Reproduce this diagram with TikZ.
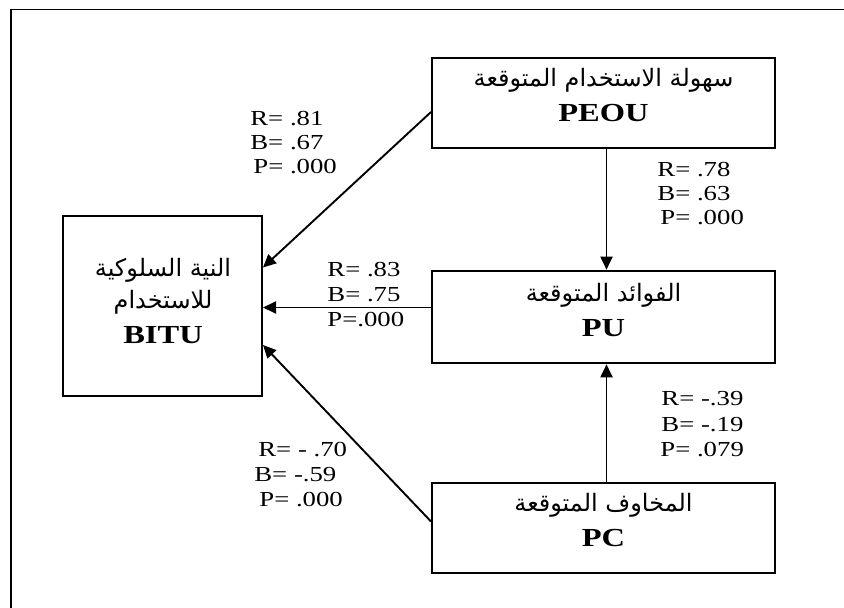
\documentclass[tikz,border=0pt]{standalone}
\usepackage{fontspec}
\setmainfont{Liberation Serif}[FakeStretch=1.25]
\newfontfamily\arabicfont[Script=Arabic]{DejaVu Sans}
\TeXXeTstate=1
\usetikzlibrary{arrows.meta,calc}
\newcommand{\ar}[1]{{\arabicfont\fontsize{12pt}{14pt}\selectfont\beginR #1\endR}}
\tikzset{
  box/.style={draw, line width=1pt, align=center, inner sep=0pt},
  ttl/.style={font=\fontsize{13pt}{15pt}\selectfont\bfseries},
  lbl/.style={anchor=base west, inner sep=0pt, font=\fontsize{10.7pt}{12pt}\selectfont},
  arr/.style={line width=0.95pt, -{Triangle[length=6.5pt,width=6pt]}}
}
\begin{document}
\begin{tikzpicture}[x=0.5pt,y=-0.5pt]
\useasboundingbox (0,0) rectangle (844,608);
\draw[line width=0.8pt] (845,9.5) -- (11,9.5) -- (11,612);
% boxes
\node[box, minimum width=171.5pt, minimum height=45.25pt] (PEOU) at (603.5,103) {};
\node[box, minimum width=171.5pt, minimum height=46.3pt] (PU) at (603.5,317) {};
\node[box, minimum width=171.5pt, minimum height=45.2pt] (PC) at (603.5,528) {};
\node[box, minimum width=99.5pt, minimum height=89.75pt] (BITU) at (162.5,306) {};
% box texts
\node[inner sep=0pt] (tPEOUa) at (603.5,80) {\ar{سهولة الاستخدام المتوقعة}};
\node[ttl, anchor=base, inner sep=0pt] (tPEOUb) at (603.5,122) {PEOU};
\node[inner sep=0pt] (tPUa) at (603.5,295) {\ar{الفوائد المتوقعة}};
\node[ttl, anchor=base, inner sep=0pt] (tPUb) at (603.5,337) {PU};
\node[inner sep=0pt] (tPCa) at (603.5,505) {\ar{المخاوف المتوقعة}};
\node[ttl, anchor=base, inner sep=0pt] (tPCb) at (603.5,546) {PC};
\node[inner sep=0pt] (tBITUa) at (163,270) {\ar{النية السلوكية}};
\node[inner sep=0pt] (tBITUb) at (163,302) {\ar{للاستخدام}};
\node[ttl, anchor=base, inner sep=0pt] (tBITUc) at (163,344) {BITU};
% connectors
\draw[arr] ($(PEOU.west)+(0,9)$) -- ($(BITU.east)+(0,-38.5)$);
\draw[arr] ($(PU.west)+(0,-9.5)$) -- ($(BITU.east)+(0,1.5)$);
\draw[arr] ($(PC.west)+(0,-6.5)$) -- ($(BITU.east)+(0,39)$);
\draw[arr] ($(PEOU.south)+(3,0)$) -- ($(PU.north)+(3,0)$);
\draw[arr] ($(PC.north)+(3,0)$) -- ($(PU.south)+(3,0)$);
% labels
\node[lbl] (r1) at (250,126) {R= .81};
\node[lbl] (b1) at (250,150) {B= .67};
\node[lbl] (p1) at (253,174) {P= .000};
\node[lbl] (r2) at (327,277) {R= .83};
\node[lbl] (b2) at (327,302) {B= .75};
\node[lbl] (p2) at (327,327) {P=.000};
\node[lbl] (r3) at (258,456) {R= - .70};
\node[lbl] (b3) at (254,481) {B= -.59};
\node[lbl] (p3) at (259,506) {P= .000};
\node[lbl] (r4) at (657,177) {R= .78};
\node[lbl] (b4) at (657,201) {B= .63};
\node[lbl] (p4) at (660,225) {P= .000};
\node[lbl] (r5) at (661,405) {R= -.39};
\node[lbl] (b5) at (661,431) {B= -.19};
\node[lbl] (p5) at (660,456) {P= .079};
\end{tikzpicture}
\end{document}
